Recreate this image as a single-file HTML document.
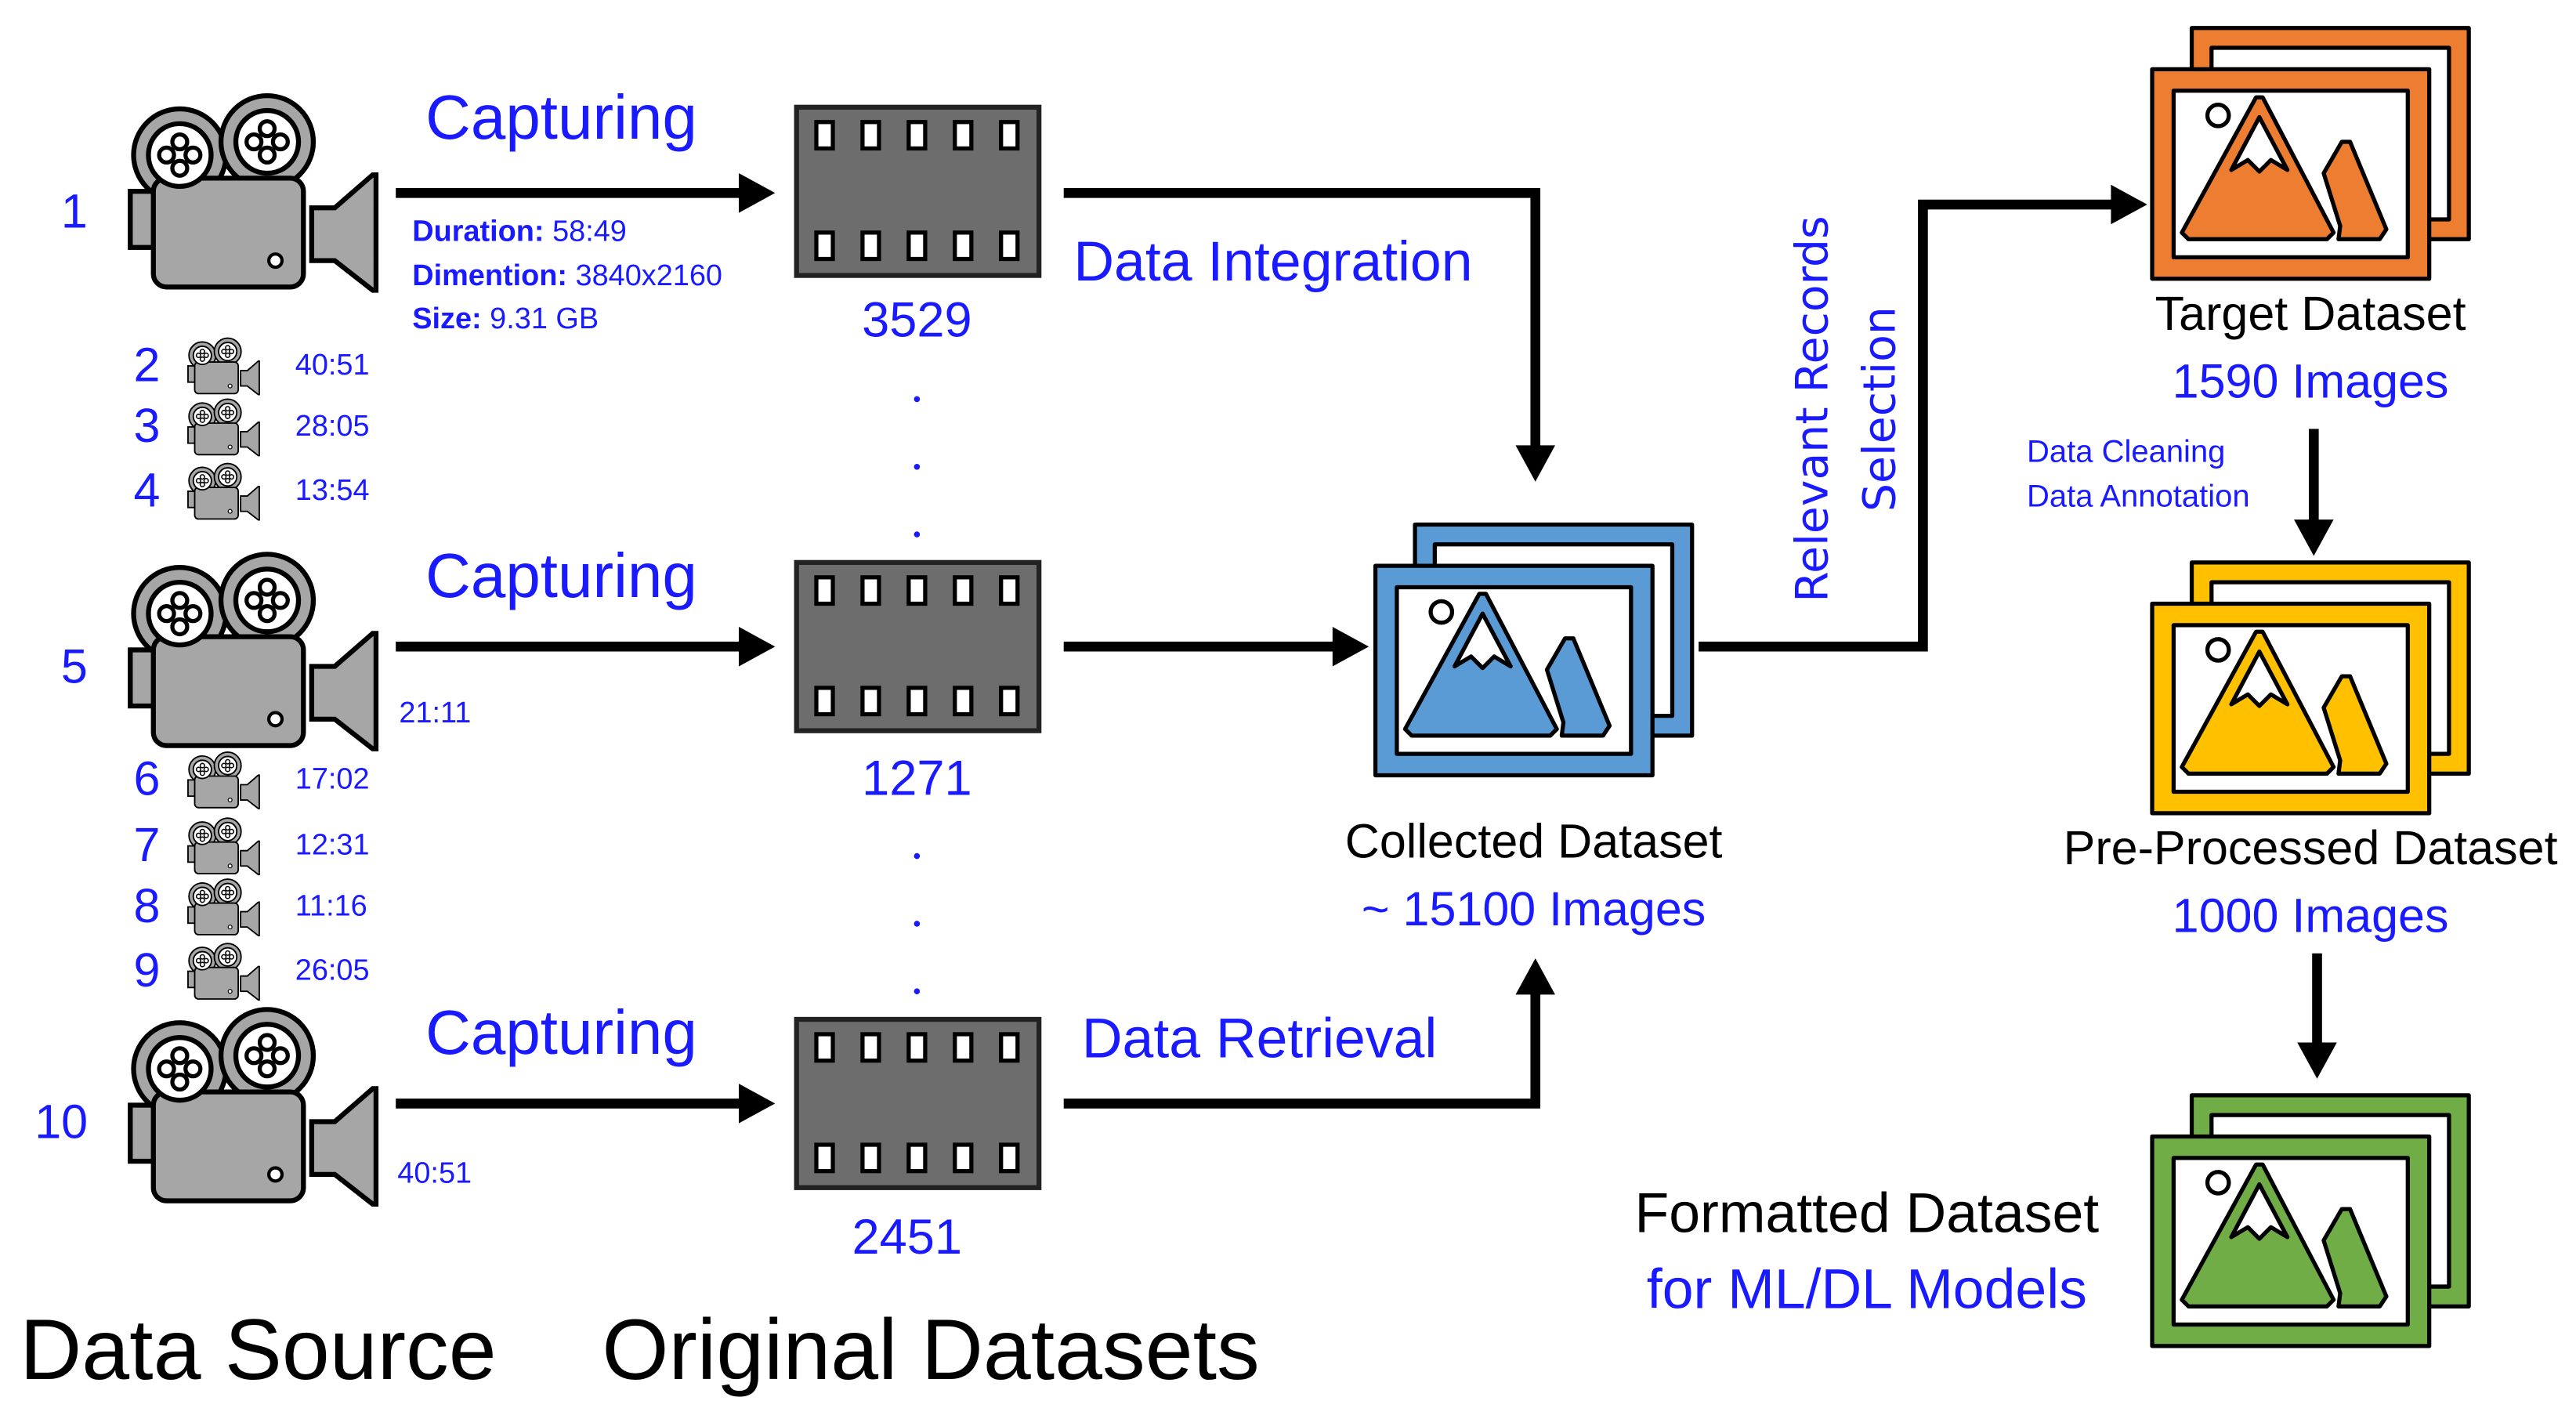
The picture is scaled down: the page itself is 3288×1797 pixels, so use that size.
<!DOCTYPE html>
<html><head><meta charset="utf-8"><style>
html,body{margin:0;padding:0;background:#fff;}
svg{display:block;}
text{font-family:"Liberation Sans",sans-serif;}
.b{fill:#1a1aff;}
.k{fill:#000;}
</style></head><body>
<svg width="3288" height="1797" viewBox="0 0 1562 853.6" preserveAspectRatio="none" xmlns="http://www.w3.org/2000/svg">
<defs>
<g id="cam">
  <rect x="0" y="58" width="18" height="34" fill="#a6a6a6" stroke="#000" stroke-width="3"/>
  <circle cx="30" cy="36" r="28" fill="#a6a6a6" stroke="#000" stroke-width="3"/>
  <circle cx="83" cy="28" r="28" fill="#a6a6a6" stroke="#000" stroke-width="3"/>
  <rect x="14" y="50" width="91" height="66" rx="8" fill="#a6a6a6" stroke="#000" stroke-width="3"/>
  <circle cx="30" cy="36" r="19" fill="#fff" stroke="#000" stroke-width="3"/>
  <circle cx="83" cy="28" r="19" fill="#fff" stroke="#000" stroke-width="3"/>
  <g fill="none" stroke="#000" stroke-width="2.5">
    <circle cx="22" cy="36" r="4.5"/><circle cx="38" cy="36" r="4.5"/><circle cx="30" cy="28" r="4.5"/><circle cx="30" cy="44" r="4.5"/>
    <circle cx="75" cy="28" r="4.5"/><circle cx="91" cy="28" r="4.5"/><circle cx="83" cy="20" r="4.5"/><circle cx="83" cy="36" r="4.5"/>
  </g>
  <circle cx="88" cy="100" r="4" fill="#fff" stroke="#000" stroke-width="2"/>
  <polygon points="110,68 124,68 147,48 149,48 149,118 147,118 124,100 110,100" fill="#a6a6a6" stroke="#000" stroke-width="3"/>
</g>
<g id="film">
  <rect x="0" y="0" width="147" height="102" fill="#6d6d6d" stroke="#222" stroke-width="3"/>
  <g fill="#fff" stroke="#000" stroke-width="2.5">
    <rect x="12" y="9" width="10" height="16"/><rect x="40" y="9" width="10" height="16"/><rect x="68" y="9" width="10" height="16"/><rect x="96" y="9" width="10" height="16"/><rect x="124" y="9" width="10" height="16"/>
    <rect x="12" y="76" width="10" height="16"/><rect x="40" y="76" width="10" height="16"/><rect x="68" y="76" width="10" height="16"/><rect x="96" y="76" width="10" height="16"/><rect x="124" y="76" width="10" height="16"/>
  </g>
</g>
<g id="img" stroke="#000" stroke-width="2.5" stroke-linejoin="round">
  <rect x="24" y="0" width="168" height="128"/>
  <rect x="36" y="12" width="144" height="104" fill="#fff"/>
  <rect x="0" y="25" width="168" height="127"/>
  <rect x="13" y="38" width="142" height="101" fill="#fff"/>
  <circle cx="40" cy="53" r="6.5" fill="#fff"/>
  <polygon points="18,124 63,42 67,42 110,124 106,128 22,128"/>
  <polygon points="48,86 65,54 82,86 72,80 65,87 58,80" fill="#fff"/>
  <polygon points="104,88 115,69 120,69 142,122 138,128 113,128 114,120"/>
</g>
<g id="arr"><polygon points="0,0 -22,-12 -22,12" fill="#000"/></g>
</defs>

<!-- cameras -->
<use href="#cam" x="79" y="58"/>
<use href="#cam" x="79" y="336"/>
<use href="#cam" x="79" y="612"/>
<g transform="translate(114,205) scale(0.29)"><use href="#cam"/></g>
<g transform="translate(114,242) scale(0.29)"><use href="#cam"/></g>
<g transform="translate(114,281) scale(0.29)"><use href="#cam"/></g>
<g transform="translate(114,456) scale(0.29)"><use href="#cam"/></g>
<g transform="translate(114,496) scale(0.29)"><use href="#cam"/></g>
<g transform="translate(114,533) scale(0.29)"><use href="#cam"/></g>
<g transform="translate(114,572) scale(0.29)"><use href="#cam"/></g>

<g class="b" font-size="29">
<text x="37" y="138">1</text><text x="37" y="414">5</text><text x="21" y="690">10</text>
<text x="81" y="231">2</text><text x="81" y="268">3</text><text x="81" y="307">4</text>
<text x="81" y="482">6</text><text x="81" y="522">7</text><text x="81" y="559">8</text><text x="81" y="598">9</text>
</g>
<g class="b" font-size="18">
<text x="179" y="227">40:51</text><text x="179" y="264">28:05</text><text x="179" y="303">13:54</text>
<text x="179" y="478">17:02</text><text x="179" y="518">12:31</text><text x="179" y="555">11:16</text><text x="179" y="594">26:05</text>
<text x="242" y="438">21:11</text><text x="241" y="717">40:51</text>
<text x="250" y="146"><tspan font-weight="bold">Duration:</tspan> 58:49</text>
<text x="250" y="173"><tspan font-weight="bold">Dimention:</tspan> 3840x2160</text>
<text x="250" y="199"><tspan font-weight="bold">Size:</tspan> 9.31 GB</text>
</g>

<!-- capturing arrows -->
<g stroke="#000" stroke-width="6">
<line x1="240" y1="117" x2="452" y2="117"/><line x1="240" y1="392" x2="452" y2="392"/><line x1="240" y1="669" x2="452" y2="669"/>
</g>
<use href="#arr" x="470" y="117"/><use href="#arr" x="470" y="392"/><use href="#arr" x="470" y="669"/>
<g class="b" font-size="38"><text x="258" y="84">Capturing</text><text x="258" y="362">Capturing</text><text x="258" y="639">Capturing</text></g>

<!-- films -->
<use href="#film" x="483" y="65"/><use href="#film" x="483" y="341"/><use href="#film" x="483" y="618"/>
<g class="b" font-size="30" text-anchor="middle">
<text x="556" y="204">3529</text><text x="556" y="482">1271</text><text x="550" y="760">2451</text>
</g>
<g fill="#1a1aff"><circle cx="556" cy="242" r="1.8"/><circle cx="556" cy="283" r="1.8"/><circle cx="556" cy="324" r="1.8"/>
<circle cx="556" cy="519" r="1.8"/><circle cx="556" cy="560" r="1.8"/><circle cx="556" cy="601" r="1.8"/></g>

<!-- integration lines -->
<g stroke="#000" stroke-width="6" fill="none">
<polyline points="645,117 931,117 931,272"/>
<line x1="645" y1="392" x2="810" y2="392"/>
<polyline points="645,669 931,669 931,602"/>
<polyline points="1030,392 1166,392 1166,124 1282,124"/>
<line x1="1403" y1="260" x2="1403" y2="318"/>
<line x1="1405" y1="578" x2="1405" y2="634"/>
</g>
<use href="#arr" transform="translate(931,292) rotate(90)"/>
<use href="#arr" x="830" y="392"/>
<use href="#arr" transform="translate(931,581) rotate(-90)"/>
<use href="#arr" x="1302" y="124"/>
<use href="#arr" transform="translate(1403,337) rotate(90)"/>
<use href="#arr" transform="translate(1405,654) rotate(90)"/>
<g class="b" font-size="34"><text x="651" y="170">Data Integration</text><text x="656" y="641">Data Retrieval</text></g>

<!-- image icons -->
<use href="#img" x="834" y="318" fill="#5b9bd5"/>
<use href="#img" x="1305" y="17" fill="#ed7d31"/>
<use href="#img" x="1305" y="341" fill="#ffc000"/>
<use href="#img" x="1305" y="664" fill="#70ad47"/>

<g font-size="29" text-anchor="middle">
<text class="k" x="930" y="520">Collected Dataset</text>
<text class="b" x="930" y="561">~ 15100 Images</text>
<text class="k" x="1401" y="200">Target Dataset</text>
<text class="b" x="1401" y="241">1590 Images</text>
<text class="k" x="1401" y="524">Pre-Processed Dataset</text>
<text class="b" x="1401" y="565">1000 Images</text>
</g>
<g font-size="34" text-anchor="middle">
<text class="k" x="1132" y="747">Formatted Dataset</text>
<text class="b" x="1132" y="793">for ML/DL Models</text>
</g>
<g class="b" font-size="19"><text x="1229" y="280">Data Cleaning</text><text x="1229" y="307">Data Annotation</text></g>
<g class="b" font-size="27" text-anchor="middle" style="font-family:'DejaVu Sans',sans-serif">
<text transform="translate(1108,248) rotate(-90)" style="font-family:'DejaVu Sans',sans-serif">Relevant Records</text>
<text transform="translate(1149,248) rotate(-90)" style="font-family:'DejaVu Sans',sans-serif">Selection</text>
</g>
<g class="k" font-size="52"><text x="12" y="836">Data Source</text><text x="365" y="836">Original Datasets</text></g>
</svg>
</body></html>
